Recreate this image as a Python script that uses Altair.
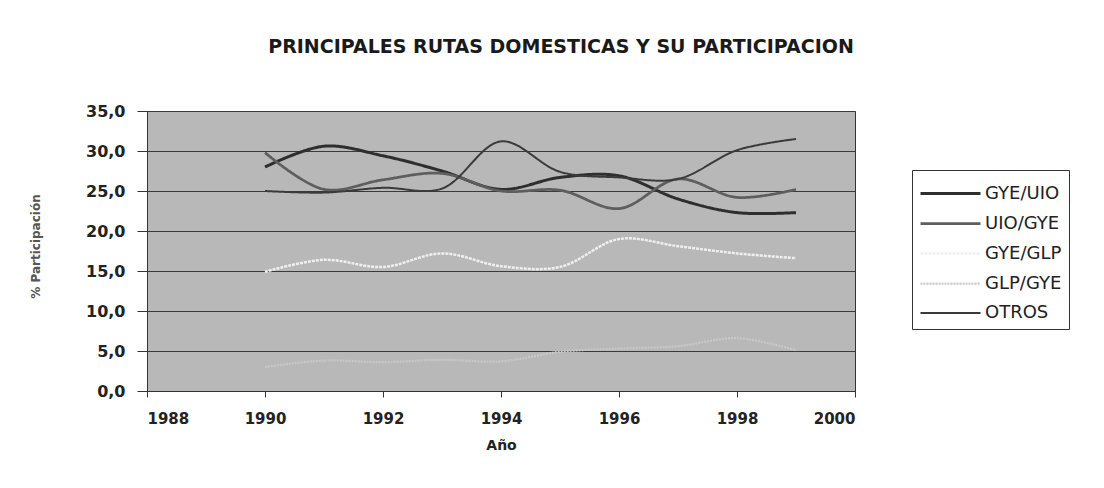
import altair as alt
import pandas as pd

years = [1990, 1991, 1992, 1993, 1994, 1995, 1996, 1997, 1998, 1999]
gye_uio = [28.0, 30.6, 29.4, 27.5, 25.2, 26.7, 26.9, 24.0, 22.3, 22.3]
uio_gye = [29.8, 25.2, 26.4, 27.2, 25.0, 25.1, 22.8, 26.5, 24.2, 25.2]
gye_glp = [14.9, 16.4, 15.5, 17.2, 15.6, 15.5, 19.0, 18.1, 17.2, 16.6]
glp_gye = [3.0, 3.8, 3.6, 3.9, 3.7, 4.9, 5.3, 5.6, 6.6, 5.1]
otros = [25.0, 24.8, 25.4, 25.3, 31.2, 27.4, 26.7, 26.5, 30.1, 31.5]

series_names = ["GYE/UIO", "UIO/GYE", "GYE/GLP", "GLP/GYE", "OTROS"]
series_values = [gye_uio, uio_gye, gye_glp, glp_gye, otros]
series_colors = ["#2e2e2e", "#5e5e5e", "#efefef", "#c8c8c8", "#3a3a3a"]
series_widths = [3.0, 2.0, 2.0, 1.5, 2.5]
series_dashes = [[1, 0], [1, 0], [3, 1], [2, 1], [1, 0]]

x_ticks = [1988, 1990, 1992, 1994, 1996, 1998, 2000]
y_ticks = [0, 5, 10, 15, 20, 25, 30, 35]

rows = []
for name, vals in zip(series_names, series_values):
    for yr, v in zip(years, vals):
        rows.append({"Año": yr, "valor": v, "ruta": name})
df = pd.DataFrame(rows)

FONT = "DejaVu Sans"

legend = alt.Legend(
    title=None,
    orient="none",
    legendX=765,
    legendY=59,
    strokeColor="#333333",
    fillColor="#ffffff",
    padding=7,
    symbolType="M-2,0H2",
    symbolSize=900,
    symbolOffset=15,
    labelOffset=18,
    labelFont=FONT,
    labelFontSize=18,
    labelColor="#222222",
    rowPadding=4,
)

lines = alt.Chart(df).mark_line(interpolate="catmull-rom").encode(
    x=alt.X(
        "Año:Q",
        scale=alt.Scale(domain=[1988, 2000], nice=False, zero=False),
        axis=alt.Axis(
            values=x_ticks, format="d", title="Año", grid=False,
            labelFont=FONT, labelFontSize=15, labelFontWeight="bold", labelColor="#222222",
            labelPadding=14, tickSize=6, tickColor="#333333", domainColor="#333333",
            titleFont=FONT, titleFontSize=14, titleFontWeight="bold", titleColor="#222222",
            titlePadding=12,
        ),
    ),
    y=alt.Y(
        "valor:Q",
        scale=alt.Scale(domain=[0, 35], nice=False),
        axis=alt.Axis(
            values=y_ticks,
            labelExpr="replace(format(datum.value, '.1f'), '.', ',')",
            title="% Participación", grid=True, gridColor="#3a3a3a", gridWidth=1,
            labelFont=FONT, labelFontSize=16, labelFontWeight="bold", labelColor="#222222",
            labelPadding=12, tickSize=10, tickColor="#333333", domainColor="#333333",
            titleFont=FONT, titleFontSize=12, titleFontWeight="bold", titleColor="#555555",
            titleX=-112, titleY=135, titleAngle=-90, titleAlign="center", titleBaseline="middle",
        ),
    ),
    color=alt.Color("ruta:N", scale=alt.Scale(domain=series_names, range=series_colors), legend=legend),
    strokeWidth=alt.StrokeWidth("ruta:N", scale=alt.Scale(domain=series_names, range=series_widths), legend=legend),
    strokeDash=alt.StrokeDash("ruta:N", scale=alt.Scale(domain=series_names, range=series_dashes), legend=legend),
)

chart = lines.properties(
    width=708,
    height=280,
    title=alt.TitleParams(
        "PRINCIPALES RUTAS DOMESTICAS Y SU PARTICIPACION",
        font=FONT, fontSize=19, fontWeight="bold", color="#1a1a1a",
        anchor="middle", dx=60, offset=46,
    ),
    autosize=alt.AutoSizeParams(type="none"),
    padding={"left": 139, "top": 103, "right": 241, "bottom": 89},
    background="#ffffff",
).configure_view(
    fill="#b8b8b8", stroke="#333333", strokeWidth=1
)

chart.save("out.html", embed_options={"renderer": "svg", "actions": False})
